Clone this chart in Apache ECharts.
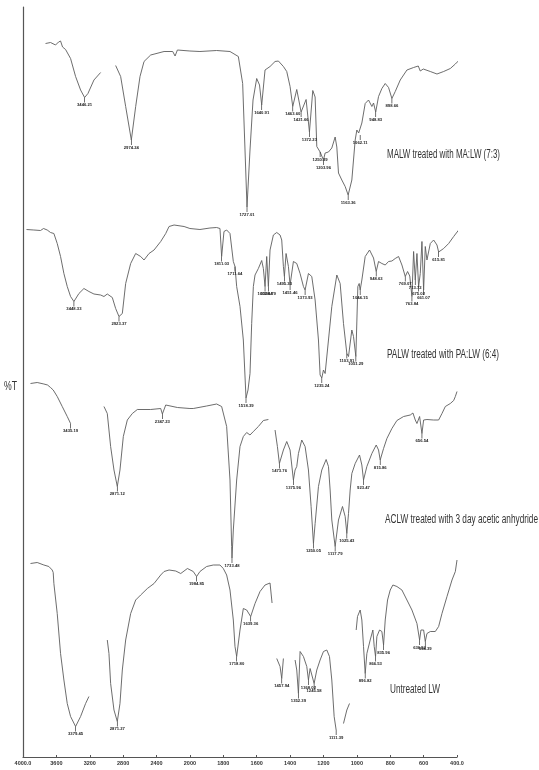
<!DOCTYPE html>
<html><head><meta charset="utf-8">
<script src="https://cdn.jsdelivr.net/npm/echarts@6/dist/echarts.min.js"></script>
<style>html,body{margin:0;padding:0;background:#fff}#c{width:539px;height:770px}</style>
</head><body><div id="c"></div>
<script>
// Axis ticks (wavenumber, cm-1) – the axis is split: 400 cm-1 per tick above 2000, 200 below
const xTickValues = [4000,3600,3200,2800,2400,2000,1800,1600,1400,1200,1000,800,600,400];
const xTickLabels = ['4000.0','3600','3200','2800','2400','2000','1800','1600','1400','1200','1000','800','600','400.0'];

const seriesNames = ['MALW treated with MA:LW (7:3)','PALW treated with PA:LW (6:4)','ACLW treated with 3 day acetic anhydride','Untreated LW'];

// [wavenumber, %T (offset, arbitrary units)]; null = gap in the trace
const malw = [
[3730,142.7],[3670,142.9],[3610,142.4],[3574,143.0],[3550,143.2],[3526,142.0],[3490,141.5],[3430,139.7],[3370,136.1],[3310,133.4],[3262,131.9],[3222,132.7],[3150,135.4],[3070,136.9],
null,
[2890,138.3],[2830,136.1],[2770,130.1],[2702,123.4],[2650,130.1],[2598,136.1],[2550,139.1],[2470,140.4],[2310,141.1],[2206,141.1],[2178,140.2],[2150,141.4],[2000,141.2],[1940,141.1],[1840,141.3],[1760,141.1],[1710,140.1],[1684,134.7],[1670,121.4],[1658,110.0],[1640,121.4],[1622,131.4],[1600,135.7],[1583,134.4],[1570,130.4],[1550,137.4],[1520,138.1],[1490,139.1],[1470,139.2],[1440,138.1],[1420,137.1],[1400,134.1],[1384,130.1],[1360,133.5],[1334,129.0],[1304,131.5],[1284,125.0],[1264,133.3],[1250,132.0],[1240,122.1],[1230,121.8],[1220,121.0],[1200,119.4],[1190,120.8],[1170,121.0],[1150,121.8],[1130,124.0],[1120,122.0],[1110,116.8],[1090,115.4],[1070,114.1],[1052,112.4],[1030,115.4],[1010,123.4],[1000,125.4],[989,124.8],[980,124.4],[970,126.8],[950,130.7],[930,131.4],[910,130.1],[900,130.8],[887,129.0],[870,132.1],[850,133.7],[830,134.7],[810,133.9],[790,131.7],[770,133.1],[740,135.4],[720,136.4],[700,137.4],[660,137.9],[632,138.2],[620,137.2],[602,137.6],[560,137.1],[520,136.6],[480,137.1],[440,137.7],[410,138.6],[386,139.4],[374,140.8],[362,139.6],[350,141.0]
];
const malwPeaks = [[3262,'3446.21'],[2702,'2974.24'],[1658,'1727.01'],[1570,'1640.91'],[1384,'1463.60'],[1334,'1421.66'],[1284,'1372.23'],[1220,'1250.39'],[1200,'1203.96'],[1052,'1163.36'],[980,'1062.11'],[887,'948.83'],[790,'898.66']];

const palw = [
[3958,105.5],[3870,105.4],[3790,105.3],[3754,105.7],[3710,105.4],[3670,104.9],[3630,104.7],[3590,102.7],[3550,100.1],[3510,96.7],[3470,94.1],[3430,92.1],[3390,91.1],[3330,92.7],[3270,93.7],[3210,93.1],[3150,92.6],[3070,92.4],[3030,92.1],[2990,92.6],[2930,91.9],[2890,89.7],[2850,88.1],[2810,88.7],[2770,94.7],[2710,98.7],[2650,100.7],[2590,100.1],[2550,99.4],[2490,100.7],[2430,101.4],[2350,103.1],[2290,104.7],[2250,106.1],[2190,106.4],[2070,106.1],[2000,105.7],[1940,105.5],[1880,105.8],[1840,105.9],[1820,105.7],[1810,100.1],[1796,105.1],[1780,105.4],[1760,104.7],[1740,99.1],[1730,98.1],[1720,94.1],[1700,90.1],[1680,83.4],[1664,71.8],[1652,73.4],[1640,76.7],[1630,86.7],[1620,94.1],[1610,96.4],[1590,97.7],[1570,99.3],[1560,97.7],[1550,94.1],[1540,100.1],[1530,94.1],[1520,101.4],[1500,104.4],[1480,104.9],[1460,104.4],[1450,103.4],[1440,98.1],[1434,96.1],[1424,100.7],[1410,98.1],[1400,94.4],[1380,99.1],[1360,98.7],[1340,96.7],[1320,94.1],[1310,93.4],[1290,96.7],[1270,96.1],[1250,91.4],[1230,83.4],[1220,76.4],[1210,75.8],[1200,77.4],[1190,76.7],[1170,83.4],[1150,90.1],[1120,96.4],[1100,94.7],[1080,86.7],[1060,80.7],[1050,80.1],[1030,85.4],[1020,84.1],[1006,80.1],[994,94.1],[986,94.7],[980,93.4],[970,95.4],[950,100.1],[924,101.4],[900,99.8],[884,97.1],[870,99.1],[850,98.7],[830,98.4],[810,99.1],[790,99.2],[770,99.7],[750,100.1],[730,98.4],[710,96.1],[696,97.1],[683,96.2],[670,92.1],[660,101.1],[650,95.4],[640,100.7],[630,94.1],[620,96.7],[610,103.1],[600,93.4],[590,102.1],[580,99.4],[560,102.7],[540,103.4],[520,102.4],[510,101.0],[480,101.7],[450,102.7],[420,104.1],[390,105.4]
];
const palwPeaks = [[3390,'3448.33'],[2850,'2923.37'],[1810,'1811.03'],[1730,'1711.64'],[1664,'1518.39'],[1550,'1602.64'],[1530,'1598.79'],[1434,'1495.33'],[1400,'1451.46'],[1310,'1373.93'],[1210,'1235.24'],[1060,'1103.91'],[1006,'1051.29'],[980,'1044.15'],[884,'948.63'],[710,'769.07'],[670,'763.84'],[650,'713.72'],[630,'675.02'],[600,'661.07'],[510,'615.81']];

const aclw = [
[3910,74.7],[3830,74.9],[3750,74.6],[3706,74.4],[3670,73.9],[3638,73.4],[3590,72.1],[3530,70.1],[3470,68.1],[3430,66.7],
null,
[3030,70.1],[2990,68.7],[2950,62.1],[2910,57.4],[2870,54.1],[2838,57.4],[2798,64.1],[2750,67.4],[2690,68.7],[2630,69.5],[2470,69.5],[2350,69.7],[2330,68.6],[2290,70.4],[2150,69.9],[2000,69.7],[1980,69.7],[1900,70.2],[1840,70.6],[1810,70.1],[1780,66.1],[1760,55.4],[1750,42.1],[1748,39.8],[1740,45.4],[1720,55.4],[1700,62.1],[1680,64.1],[1660,64.9],[1640,64.4],[1620,65.1],[1590,66.1],[1560,67.3],[1530,67.5],
null,
[1490,65.4],[1476,62.1],[1464,58.7],[1440,61.4],[1420,63.1],[1400,61.4],[1380,55.4],[1370,57.4],[1360,58.1],[1350,60.7],[1330,63.4],[1310,62.1],[1290,57.4],[1274,50.1],[1260,42.7],[1250,46.7],[1230,54.1],[1210,57.4],[1184,59.5],[1170,58.1],[1160,53.4],[1150,47.4],[1130,42.1],[1110,47.4],[1086,50.1],[1070,48.1],[1060,44.7],[1050,48.7],[1040,53.4],[1030,56.7],[1010,58.7],[984,60.4],[970,58.4],[960,55.4],[940,58.1],[910,60.7],[884,62.4],[870,61.4],[860,59.4],[840,61.7],[820,63.7],[790,65.7],[760,67.3],[720,68.1],[680,68.4],[664,68.8],[650,67.4],[640,66.7],[624,68.1],[610,64.7],[600,67.4],[580,67.5],[540,67.4],[510,67.4],[490,68.7],[470,70.1],[440,70.7],[430,70.4],[420,71.3],[410,72.1],[400,73.1]
];
const aclwPeaks = [[3430,'3435.19'],[2870,'2871.12'],[2330,'2347.23'],[1748,'1733.48'],[1464,'1473.76'],[1380,'1375.96'],[1260,'1250.05'],[1130,'1117.79'],[1060,'1025.43'],[960,'923.47'],[860,'815.86'],[610,'656.54']];

const untreated = [
[3910,38.7],[3830,38.9],[3750,38.4],[3690,38.1],[3650,37.4],[3638,36.9],[3630,34.7],[3590,28.7],[3550,20.7],[3510,15.4],[3470,10.7],[3430,8.1],[3370,6.1],[3310,8.1],[3250,10.7],[3210,12.1],
null,
[2990,23.4],[2970,20.7],[2950,14.7],[2910,9.4],[2870,7.1],[2838,10.7],[2810,17.4],[2770,23.4],[2710,28.7],[2650,31.4],[2590,32.4],[2510,33.7],[2430,34.7],[2350,36.4],[2310,37.1],[2250,37.4],[2170,37.2],[2110,36.7],[2030,37.7],[1980,37.1],[1960,36.1],[1940,37.1],[1900,38.1],[1860,38.4],[1820,38.4],[1800,37.7],[1780,36.4],[1760,33.4],[1740,27.4],[1730,22.1],[1720,20.1],[1700,25.4],[1680,29.7],[1660,29.4],[1636,28.1],[1610,30.7],[1580,33.1],[1550,34.4],[1520,34.8],[1508,30.8],
null,
[1480,19.7],[1460,18.1],[1450,15.7],[1440,19.7],
null,
[1370,19.4],[1360,17.4],[1350,12.7],[1340,21.1],[1320,20.1],[1300,18.1],[1290,15.4],[1280,17.7],[1270,18.1],[1256,14.7],[1240,17.4],[1220,19.4],[1200,21.1],[1180,21.4],[1164,20.1],[1150,15.4],[1136,8.1],[1124,5.4],
null,
[1080,6.7],[1060,9.4],[1044,10.7],
null,
[1004,25.4],[996,28.1],[980,29.4],[970,27.4],[960,22.1],[950,16.7],[940,20.7],[920,23.4],[904,25.4],[896,22.1],[888,20.1],[880,24.1],[864,25.4],[850,25.1],[840,22.4],[830,27.4],[816,31.4],[800,33.4],[784,34.4],[760,34.1],[730,33.4],[700,31.4],[670,29.4],[640,26.7],[624,23.4],[616,25.4],[600,25.4],[590,23.1],[580,24.7],[560,25.1],[530,25.1],[510,26.1],[490,28.7],[460,32.1],[430,35.4],[410,37.1],[400,39.4]
];
const untreatedPeaks = [[3370,'3379.45'],[2870,'2871.27'],[1960,'1984.85'],[1720,'1718.80'],[1636,'1639.36'],[1450,'1457.94'],[1350,'1352.39'],[1290,'1368.02'],[1256,'1245.58'],[1124,'1111.39'],[950,'896.82'],[888,'866.53'],[840,'835.96'],[624,'636.52'],[590,'594.39']];

// ---- build ----
function toAxis(w){
  const t = xTickValues;
  let i = 0;
  while (i < t.length - 2 && w < t[i+1]) i++;
  return i + (t[i] - w) / (t[i] - t[i+1]);
}
const spectra = [malw, palw, aclw, untreated];
const peaks = [malwPeaks, palwPeaks, aclwPeaks, untreatedPeaks];

const series = spectra.map((s, k) => {
  const data = s.map(p => p ? [toAxis(p[0]), p[1]] : [null, null]);
  const mp = peaks[k].map(([w, txt]) => {
    const pt = s.find(p => p && p[0] === w);
    return { coord: [toAxis(w), pt[1]], value: txt };
  });
  return {
    name: seriesNames[k], type: 'line', data, showSymbol: false, clip: false,
    connectNulls: false, silent: true,
    lineStyle: { color: '#5c5c5c', width: 0.9 },
    markPoint: {
      silent: true, animation: false,
      symbol: 'rect', symbolSize: [0.7, 5], symbolOffset: [0, 2.5],
      itemStyle: { color: '#333' },
      label: { show: true, position: 'bottom', distance: 0.5, formatter: p => p.value,
               fontSize: 4.2, fontWeight: 'bold', color: '#222', fontFamily: 'Liberation Sans' },
      data: mp
    }
  };
});

const chart = echarts.init(document.getElementById('c'), null, { renderer: 'canvas' });

// Annotation text boxes (squeezed horizontally like the source)
const annot = [
  { text: seriesNames[0], x0: 387, x1: 500, y: 155 },
  { text: seriesNames[1], x0: 387, x1: 499, y: 355 },
  { text: seriesNames[2], x0: 385, x1: 538, y: 520 },
  { text: seriesNames[3], x0: 390, x1: 440, y: 690 },
  { text: '%T', x0: 4, x1: 17, y: 387 }
];
const ctx = document.createElement('canvas').getContext('2d');
const font = '12px "Liberation Sans"';
ctx.font = font;
const graphic = annot.map(a => {
  const w = ctx.measureText(a.text).width;
  return {
    type: 'text', x: a.x0, y: a.y, scaleX: (a.x1 - a.x0) / w, scaleY: 1, silent: true,
    style: { text: a.text, font: font, fill: '#333', align: 'left', verticalAlign: 'middle' }
  };
});

chart.setOption({
  animation: false,
  backgroundColor: '#fff',
  grid: { left: 23, right: 82, top: 7, bottom: 13, containLabel: false },
  xAxis: {
    type: 'value', min: 0, max: xTickValues.length - 1, interval: 1,
    axisLine: { show: true, onZero: false, lineStyle: { color: '#555', width: 1.2 } },
    axisTick: { show: true, inside: true, length: 2, lineStyle: { color: '#555' } },
    splitLine: { show: false },
    axisLabel: { formatter: v => xTickLabels[Math.round(v)] || '', fontSize: 5.5, fontWeight: 'bold',
                 color: '#333', margin: 3, fontFamily: 'Liberation Sans' }
  },
  yAxis: {
    type: 'value', min: 0, max: 150,
    axisLine: { show: true, lineStyle: { color: '#555', width: 1.2 } },
    axisTick: { show: false }, axisLabel: { show: false }, splitLine: { show: false }
  },
  graphic,
  series
});
</script></body></html>
